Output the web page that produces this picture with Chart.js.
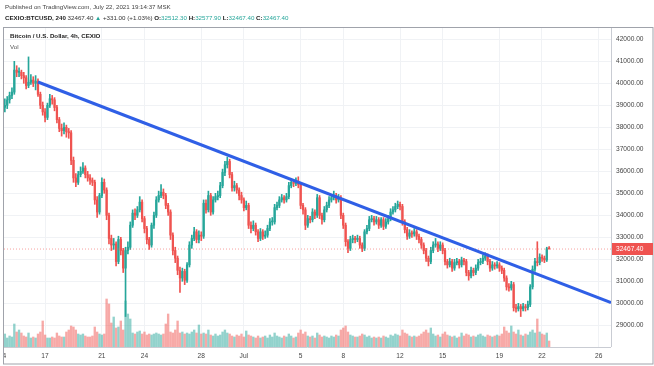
<!DOCTYPE html>
<html>
<head>
<meta charset="utf-8">
<script src="https://cdn.jsdelivr.net/npm/chart.js@4.4.1/dist/chart.umd.min.js"></script>
<style>
  html, body { margin: 0; padding: 0; background: #fff; }
  body { width: 654px; height: 366px; position: relative; overflow: hidden;
         font-family: "Liberation Sans", Arial, sans-serif; color: #333; }
  #wrap { position: absolute; left: 0; top: 0; width: 654px; height: 366px; }
  .txt { position: absolute; white-space: nowrap; font-size: 6.2px; line-height: 8px; }
  .up { color: #26a69a; }
  b { font-weight: bold; color: #222; }
</style>
</head>
<body>
<div id="wrap"><canvas id="chart"></canvas></div>
<div class="txt" style="left:5px;top:3px;color:#444">Published on TradingView.com, July 22, 2021 19:14:37 MSK</div>
<div class="txt" style="left:5px;top:14px;color:#333"><b>CEXIO:BTCUSD, 240</b> 32467.40 <span class="up">▲</span> +331.00 (+1.03%) <b>O:</b><span class="up">32512.30</span> <b>H:</b><span class="up">32577.90</span> <b>L:</b><span class="up">32467.40</span> <b>C:</b><span class="up">32467.40</span></div>
<div class="txt" style="left:10px;top:32px;color:#222;font-weight:bold">Bitcoin / U.S. Dollar, 4h, CEXIO</div>
<div class="txt" style="left:10px;top:43px;color:#555">Vol</div>
<script>
// 4h candles, x measured in days (June = day of month, July = 30 + day)
const startDay = 14.17;
const candleDays = 1 / 6;

const opens = [
  38900,39000,39250,39450,39600,40600,40500,40500,40350,40250,
  39900,40050,40150,40000,40100,39500,39000,38700,38450,39000,
  39300,39250,38900,38350,37950,37850,38000,37800,37750,36500,
  35700,35500,35850,36000,36150,35850,35700,35600,35500,34700,
  34150,34900,35500,35150,34000,32950,32650,32700,31900,32900,
  32400,31600,32400,32550,33550,34100,34000,34250,34600,33850,
  33400,32900,32650,33550,34000,34700,34900,35050,34900,34450,
  34150,33100,32400,32050,31500,31150,31450,31050,31750,32650,
  32950,33250,32900,33100,33050,34550,34250,34900,34150,34700,
  34850,34900,35350,35950,36300,36450,35850,35250,35350,35150,
  34900,34700,34350,34450,33550,33400,33550,33250,32950,33250,
  33050,33100,33400,33700,33700,34350,34450,34700,34800,34700,
  34850,35350,35500,35450,35550,35400,34450,34250,33550,33850,
  33800,34150,34000,34800,34000,33800,34250,34450,34700,34800,
  34900,34700,34800,34000,33550,32800,32500,32900,32950,32900,
  32950,32650,32500,33250,33400,33800,33850,33700,33800,33550,
  33800,33500,33700,33850,34150,34250,34400,34500,34400,33700,
  33350,33050,33200,33150,33250,33050,32900,32650,32400,32050,
  31900,32400,32650,32700,32500,32650,32400,31900,31750,31900,
  31600,31850,31900,31750,31970,31900,31400,31250,31500,31400,
  31600,31850,31900,32050,32150,31900,31600,31750,31700,31750,
  31600,31500,31150,30750,30700,30850,29800,29750,29850,29750,
  29850,29800,29950,30750,31550,31900,31850,32100,32050,31970,
  32512.3
];
const highs = [
  39300,39400,39600,39800,41000,40800,40700,40600,40500,40350,
  41200,40400,40300,40350,40200,39600,39150,38850,39100,39500,
  39450,39350,39000,38450,38150,38200,38100,37950,37850,36650,
  35900,36000,36200,36400,36250,36000,35850,35700,35600,34850,
  35000,35700,35650,35250,34100,33100,32950,32800,33050,33000,
  32500,32550,32800,33700,34250,34300,34400,34850,34700,33950,
  33500,33000,33650,34150,34850,35100,35400,35200,35000,34550,
  34250,33200,32550,32150,31650,31600,31550,31850,32800,33100,
  33450,33350,33300,33250,34700,34700,35100,35000,34850,35000,
  35100,35500,36100,36450,36650,36550,35950,35550,35450,35250,
  35050,34800,34650,34550,33700,33750,33650,33350,33400,33350,
  33300,33550,33850,33900,34500,34600,34850,34950,34900,35000,
  35500,35650,35600,35700,35750,35500,34550,34350,34000,33950,
  34300,34250,34950,34900,34100,34400,34600,34850,34950,35100,
  35000,34950,34900,34100,33650,32900,33050,33100,33050,33100,
  33050,32750,33350,33550,33950,34000,33950,33950,33900,33900,
  33900,33850,34000,34300,34400,34550,34650,34600,34500,33800,
  33450,33350,33300,33400,33350,33150,33000,32750,32500,32150,
  32550,32800,32950,32800,32800,32750,32500,32000,32050,32000,
  32000,32050,32000,32100,32050,32000,31500,31650,31600,31750,
  32000,32050,32200,32300,32250,32000,31900,31850,31900,31850,
  31700,31600,31250,30900,31000,30950,29950,30000,29950,30000,
  29950,30100,30850,31700,32050,32800,32250,32200,32150,32550,
  32577.9
];
const lows = [
  38700,38850,39100,39300,39500,40300,40300,40200,40000,39750,
  39800,39950,39850,39700,39400,38850,38550,38250,38350,38900,
  39050,38750,38200,37800,37600,37700,37550,37500,36300,35500,
  35300,35400,35750,35900,35700,35550,35400,35350,34500,33900,
  34050,34800,35000,33800,32700,32400,32450,31700,31800,32200,
  31400,29400,32250,32450,33450,33800,33900,34150,33700,33200,
  32700,32450,32550,33400,33900,34600,34800,34750,34300,34000,
  32900,32200,31850,31300,30500,31000,30850,30950,31650,32500,
  32850,32750,32750,32850,32950,34100,34150,34000,34050,34600,
  34700,34800,35250,35800,36150,35700,35100,35100,35000,34700,
  34550,34200,34250,33400,33200,33300,33100,32800,32850,32900,
  32950,33000,33300,33550,33600,34250,34350,34600,34550,34600,
  34750,35250,35300,35350,35250,34300,34050,33350,33450,33650,
  33700,33850,33900,33850,33600,33700,34150,34350,34600,34700,
  34550,34600,33850,33400,32600,32300,32400,32750,32750,32800,
  32500,32350,32400,33150,33300,33700,33550,33600,33400,33450,
  33350,33400,33600,33750,34050,34150,34300,34250,33550,33200,
  32900,32950,33000,33050,32900,32750,32500,32250,31900,31700,
  31800,32300,32550,32350,32400,32250,31750,31600,31650,31450,
  31500,31750,31600,31650,31750,31250,31050,31150,31250,31300,
  31500,31750,31800,31950,31750,31450,31500,31550,31600,31450,
  31350,31000,30600,30550,30600,29650,29600,29650,29400,29650,
  29650,29700,29850,30650,31450,31700,31750,31900,31850,31900,
  32467.4
];
const closes = [
  39000,39250,39450,39600,40600,40500,40500,40350,40250,39900,
  40050,40150,40000,40100,39500,39000,38700,38450,39000,39300,
  39250,38900,38350,37950,37850,38000,37800,37750,36500,35700,
  35500,35850,36000,36150,35850,35700,35600,35500,34700,34150,
  34900,35500,35150,34000,32950,32650,32700,31900,32900,32400,
  31600,32400,32550,33550,34100,34000,34250,34600,33850,33400,
  32900,32650,33550,34000,34700,34900,35050,34900,34450,34150,
  33100,32400,32050,31500,31150,31450,31050,31750,32650,32950,
  33250,32900,33100,33050,34550,34250,34900,34150,34700,34850,
  34900,35350,35950,36300,36450,35850,35250,35350,35150,34900,
  34700,34350,34450,33550,33400,33550,33250,32950,33250,33050,
  33100,33400,33700,33700,34350,34450,34700,34800,34700,34850,
  35350,35500,35450,35550,35400,34450,34250,33550,33850,33800,
  34150,34000,34800,34000,33800,34250,34450,34700,34800,34900,
  34700,34800,34000,33550,32800,32500,32900,32950,32900,32950,
  32650,32500,33250,33400,33800,33850,33700,33800,33550,33800,
  33500,33700,33850,34150,34250,34400,34500,34400,33700,33350,
  33050,33200,33150,33250,33050,32900,32650,32400,32050,31900,
  32400,32650,32700,32500,32650,32400,31900,31750,31900,31600,
  31850,31900,31750,31970,31900,31400,31250,31500,31400,31600,
  31850,31900,32050,32150,31900,31600,31750,31700,31750,31600,
  31500,31150,30750,30700,30850,29800,29750,29850,29750,29850,
  29800,29950,30750,31550,31900,31850,32100,32050,31970,32480,
  32467.4
];
const volumes = [
  13,9,11,10,23,15,17,14,11,10,
  14,9,10,9,13,15,26,12,9,9,
  10,9,14,11,10,10,15,17,21,20,
  17,13,12,13,11,10,10,11,20,15,
  13,12,13,48,43,24,30,19,20,26,
  17,46,33,28,14,13,15,16,13,15,
  12,13,12,13,14,13,12,13,23,33,
  15,14,17,26,14,15,13,14,13,15,
  17,14,22,13,14,13,17,12,11,13,
  11,12,15,17,14,13,11,10,12,11,
  13,10,16,12,11,10,9,11,9,10,
  11,9,12,10,14,11,10,9,11,10,
  13,11,9,10,14,17,13,15,11,10,
  11,9,14,12,10,11,10,9,11,10,
  12,11,17,19,21,15,12,11,10,10,
  11,13,12,10,11,9,10,9,10,9,
  11,10,9,12,11,13,12,11,17,14,
  13,11,10,11,10,11,13,15,17,14,
  19,13,11,12,10,13,15,12,11,10,
  11,9,10,14,11,13,12,10,11,10,
  12,13,11,10,12,11,10,11,12,11,
  13,20,16,14,21,15,13,17,12,11,
  13,12,15,17,14,28,15,13,12,14,
  6
];

const lastPrice = 32467.4;
// trend line drawn on the chart: [day, price]
const trendPoints = [[16.5, 40060], [56.86, 30030]];

const xTickDays = [14, 17, 21, 24, 28, 31, 35, 38, 42, 45, 49, 52, 56];
const xTickLabels = ['14', '17', '21', '24', '28', 'Jul', '5', '8', '12', '15', '19', '22', '26'];
const priceTicks = [29000, 30000, 31000, 32000, 33000, 34000, 35000, 36000, 37000, 38000, 39000, 40000, 41000, 42000];

const xMin = 14.11, xMax = 56.86;
const yMin = 28015, yMax = 42514;

const upColor = '#26a69a';
const downColor = '#ef5350';
const font = '"Liberation Sans", Arial, sans-serif';

const times = closes.map((c, i) => startDay + i * candleDays);
const isUp = closes.map((c, i) => c >= opens[i]);
const candleColors = isUp.map(u => u ? upColor : downColor);
const volColors = isUp.map(u => u ? 'rgba(38,166,154,0.5)' : 'rgba(239,83,80,0.5)');

// no extra room for labels that stick out of the axes
function noPad(s) {
  s.paddingLeft = 0; s.paddingRight = 0; s.paddingTop = 0; s.paddingBottom = 0;
}

const overlay = {
  id: 'overlay',
  afterDraw(chart) {
    const { ctx, chartArea: a, scales } = chart;
    ctx.save();
    // hide the part of the first date label that falls outside the frame
    ctx.fillStyle = '#fff';
    ctx.fillRect(0, a.top, a.left, chart.height - a.top);
    ctx.strokeStyle = '#c9ccd3';
    ctx.lineWidth = 1;
    ctx.beginPath();
    ctx.moveTo(a.right + 0.5, a.top); ctx.lineTo(a.right + 0.5, a.bottom);
    ctx.moveTo(a.left, a.bottom + 0.5); ctx.lineTo(a.right, a.bottom + 0.5);
    ctx.stroke();
    ctx.strokeStyle = '#a0a3ab';
    ctx.strokeRect(a.left - 0.5, a.top - 0.5, chart.width - a.left - 0.5, chart.height - a.top - 1.5);
    // last price label
    const y = scales.y.getPixelForValue(lastPrice);
    ctx.fillStyle = downColor;
    ctx.fillRect(a.right + 1, Math.round(y) - 6, 41, 12);
    ctx.fillStyle = '#fff';
    ctx.font = '6.6px ' + font;
    ctx.textBaseline = 'middle';
    ctx.fillText(lastPrice.toFixed(2), a.right + 5, y + 0.5);
    ctx.restore();
  }
};

new Chart(document.getElementById('chart'), {
  type: 'bar',
  data: {
    datasets: [
      {
        type: 'line',
        data: trendPoints.map(p => ({ x: p[0], y: p[1] })),
        borderColor: '#2f5fe6',
        borderWidth: 3,
        pointRadius: 0,
        order: 0
      },
      {
        type: 'line',
        data: [{ x: xMin, y: lastPrice }, { x: xMax, y: lastPrice }],
        borderColor: 'rgba(239,83,80,0.55)',
        borderWidth: 1,
        borderDash: [1, 2],
        pointRadius: 0,
        order: 1
      },
      {
        data: times.map((t, i) => ({ x: t, y: [opens[i], closes[i]] })),
        backgroundColor: candleColors,
        barThickness: 1.6,
        minBarLength: 1,
        grouped: false,
        order: 2
      },
      {
        data: times.map((t, i) => ({ x: t, y: [lows[i], highs[i]] })),
        backgroundColor: candleColors,
        barThickness: 1,
        grouped: false,
        order: 3
      },
      {
        data: times.map((t, i) => ({ x: t, y: volumes[i] })),
        backgroundColor: volColors,
        barThickness: 1.7,
        grouped: false,
        yAxisID: 'vol',
        order: 4
      }
    ]
  },
  options: {
    responsive: true,
    maintainAspectRatio: false,
    animation: false,
    devicePixelRatio: 1,
    layout: { padding: { left: 4, top: 28, right: 0, bottom: 0 } },
    plugins: { legend: { display: false }, tooltip: { enabled: false } },
    scales: {
      x: {
        type: 'linear',
        min: xMin,
        max: xMax,
        offset: false,
        grid: { color: '#f0f2f5', drawTicks: false, offset: false },
        border: { display: false },
        afterBuildTicks: s => { s.ticks = xTickDays.map(v => ({ value: v })); },
        afterFit: s => { s.height = 19; noPad(s); },
        ticks: {
          autoSkip: false,
          maxRotation: 0,
          padding: 5,
          color: '#444',
          font: { family: font, size: 6.6 },
          callback: (v, i) => xTickLabels[i]
        }
      },
      y: {
        position: 'right',
        min: yMin,
        max: yMax,
        grid: { color: '#f0f2f5', drawTicks: false },
        border: { display: false },
        afterBuildTicks: s => { s.ticks = priceTicks.map(v => ({ value: v })); },
        afterFit: s => { s.width = 43; noPad(s); },
        ticks: {
          padding: 5,
          color: '#444',
          font: { family: font, size: 6.6 },
          callback: v => v.toFixed(2)
        }
      },
      vol: {
        display: false,
        min: 0,
        max: 319
      }
    }
  },
  plugins: [overlay]
});
</script>
</body>
</html>
